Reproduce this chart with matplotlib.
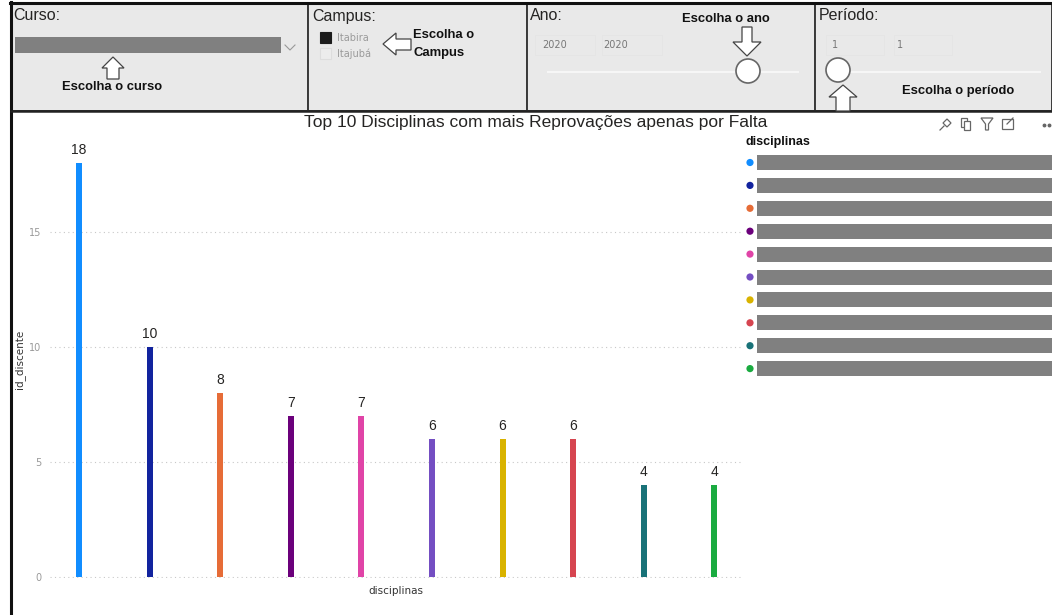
import matplotlib
matplotlib.use("Agg")
import matplotlib.pyplot as plt
from matplotlib.patches import Rectangle, Polygon, Circle

# ---- data -------------------------------------------------------------
disciplinas = [f"Disciplina {i}" for i in range(1, 11)]
reprovacoes = [18, 10, 8, 7, 7, 6, 6, 6, 4, 4]
cores = ["#118DFF", "#12239E", "#E66C37", "#6B007B", "#E044A7",
         "#744EC2", "#D9B300", "#D64550", "#197278", "#1AAB40"]
yticks = [0, 5, 10, 15]
campi = ["Itabira", "Itajubá"]
anos = ["2020", "2020"]
periodos = ["1", "1"]

W, H = 1052, 615
fig = plt.figure(figsize=(W / 100, H / 100), dpi=100, facecolor="white")

# overlay in pixel coordinates for the dashboard frame and slicers
bg = fig.add_axes([0, 0, 1, 1])
bg.set_xlim(0, W)
bg.set_ylim(H, 0)
bg.axis("off")

SANS = "Liberation Sans"
PANEL = "#e9e9e9"
EDGE = "#3a3a3a"

# slicer panels
for x0, x1 in [(12, 308), (308, 527), (527, 815), (815, 1052)]:
    bg.add_patch(Rectangle((x0, 3), x1 - x0, 108, fc=PANEL, ec=EDGE, lw=1.4))
bg.plot([10, W], [2.5, 2.5], color="#111", lw=2.2)
bg.plot([11, 11], [2, H], color="#111", lw=2.2)
bg.plot([11, W], [111, 111], color="#222", lw=1.8)

def hollow(points):
    bg.add_patch(Polygon(points, closed=True, fc="white", ec="#444", lw=0.9, zorder=3))

def note(x, y, s, size=9.4):
    bg.text(x, y, s, fontsize=size, fontweight="bold", family=SANS, color="#111",
            ha="left", va="center")

def header(x, s):
    bg.text(x, 16, s, fontsize=11.5, family=SANS, color="#252423", va="center")

# Curso
header(13, "Curso:")
bg.add_patch(Rectangle((15, 37), 266, 16, fc="#808080", ec="none"))
bg.plot([285, 290, 295], [45, 50, 45], color="#999", lw=0.8)
hollow([(113, 57), (124, 68), (119, 68), (119, 79), (107, 79), (107, 68), (102, 68)])
note(62, 87, "Escolha o curso")

# Campus
header(312, "Campus:")
bg.add_patch(Rectangle((320, 32), 11, 11, fc="#1c1c1c", ec="#1c1c1c", lw=0.8))
bg.add_patch(Rectangle((320, 48), 11, 11, fc="#ececec", ec="#dddddd", lw=0.8))
for i, nome in enumerate(campi):
    bg.text(337, 38 + 15.5 * i, nome, fontsize=7, family="DejaVu Sans",
            color="#9a9a9a", va="center")
hollow([(383, 44), (396, 33), (396, 39), (411, 39), (411, 50), (396, 50), (396, 55)])
note(413, 35, "Escolha o")
note(413, 53, "Campus")

# Ano
header(530, "Ano:")
for i, a in enumerate(anos):
    bg.add_patch(Rectangle((535 + 67 * i, 35), 60, 20, fc="none", ec="#e4e4e4", lw=0.5))
    bg.text(542 + 61 * i, 45, a, fontsize=7, family="DejaVu Sans",
            color="#777", va="center")
bg.plot([548, 798], [72, 72], color="#f6f6f6", lw=1.5)
bg.add_patch(Circle((748, 71), 12, fc="white", ec="#666", lw=1.2, zorder=3))
hollow([(742, 27), (752, 27), (752, 42), (761, 42), (747, 56), (733, 42), (742, 42)])
note(682, 19, "Escolha o ano")

# Periodo
header(819, "Período:")
for i, p in enumerate(periodos):
    bg.add_patch(Rectangle((826 + 68 * i, 35), 58, 20, fc="none", ec="#e4e4e4", lw=0.5))
    bg.text(832 + 65 * i, 45, p, fontsize=7, family="DejaVu Sans",
            color="#777", va="center")
bg.plot([838, 1040], [72, 72], color="#f6f6f6", lw=1.5)
bg.add_patch(Circle((838, 70), 12, fc="white", ec="#666", lw=1.2, zorder=3))
hollow([(843, 85), (857, 97), (850, 97), (850, 111), (836, 111), (836, 97), (829, 97)])
note(902, 91, "Escolha o período")

# visual header: title and toolbar icons
bg.text(536, 122, "Top 10 Disciplinas com mais Reprovações apenas por Falta",
        fontsize=12.5, family=SANS, color="#252423", ha="center", va="center")
ic = "#666"
bg.plot([940, 944], [130, 126], color=ic, lw=0.9)
bg.add_patch(Polygon([(943, 123), (947, 119), (951, 123), (947, 127)], closed=True,
                     fc="none", ec=ic, lw=0.9))
bg.add_patch(Rectangle((961, 118), 6, 9, fc="none", ec=ic, lw=0.9))
bg.add_patch(Rectangle((964, 121), 6, 9, fc="white", ec=ic, lw=0.9))
bg.add_patch(Polygon([(981, 118), (993, 118), (988.5, 124), (988.5, 130),
                      (985.5, 130), (985.5, 124)], closed=True, fc="none", ec=ic, lw=0.9))
bg.add_patch(Rectangle((1002, 119), 11, 10, fc="none", ec=ic, lw=0.9))
bg.plot([1007, 1013], [124, 118], color=ic, lw=0.9)
bg.plot([1044, 1049], [124.5, 124.5], "o", ms=1.8, color=ic)

# legend (labels hidden behind grey bars)
bg.text(745, 142, "disciplinas", fontsize=9, fontweight="bold", family=SANS,
        color="#111", ha="left", va="center")
for i, (nome, cor) in enumerate(zip(disciplinas, cores)):
    y = 162.5 + 22.9 * i
    bg.add_patch(Circle((750, y), 3.6, fc=cor, ec="none"))
    bg.add_patch(Rectangle((757, y - 7.5), W - 757, 15, fc="#808080", ec="none"))

# ---- chart --------------------------------------------------------------
left_px, right_px, top_px, bot_px = 50, 742, 140, 578
ax = fig.add_axes([left_px / W, 1 - bot_px / H, (right_px - left_px) / W,
                   (bot_px - top_px) / H])
ax.patch.set_alpha(0)
step = 70.6
x = list(range(len(reprovacoes)))
ax.set_xlim((left_px - 79) / step, (right_px - 79) / step)
ax.set_ylim(-1 / 23, (577 - top_px) / 23)

ax.bar(x, reprovacoes, width=6 / step, color=cores, zorder=3)
for xi, v in zip(x, reprovacoes):
    ax.annotate(str(v), (xi, v), xytext=(0, 4), textcoords="offset points",
                ha="center", va="bottom", fontsize=10, family=SANS, color="#252423")

ax.set_yticks(yticks)
ax.set_yticklabels([str(t) for t in yticks])
ax.tick_params(axis="y", length=0, pad=6, labelsize=7, labelcolor="#999")
ax.set_xticks([])
for lab in ax.get_yticklabels():
    lab.set_family("DejaVu Sans")
ax.grid(axis="y", linestyle=(0, (1, 3)), color="#c8c8c8", lw=0.8, zorder=0)
for s in ax.spines.values():
    s.set_visible(False)
ax.set_ylabel("id_discente", fontsize=7.5, color="#333", labelpad=3)
ax.set_xlabel("disciplinas", fontsize=7.5, color="#333", labelpad=6)

fig.savefig("out.png", dpi=100, facecolor="white")
